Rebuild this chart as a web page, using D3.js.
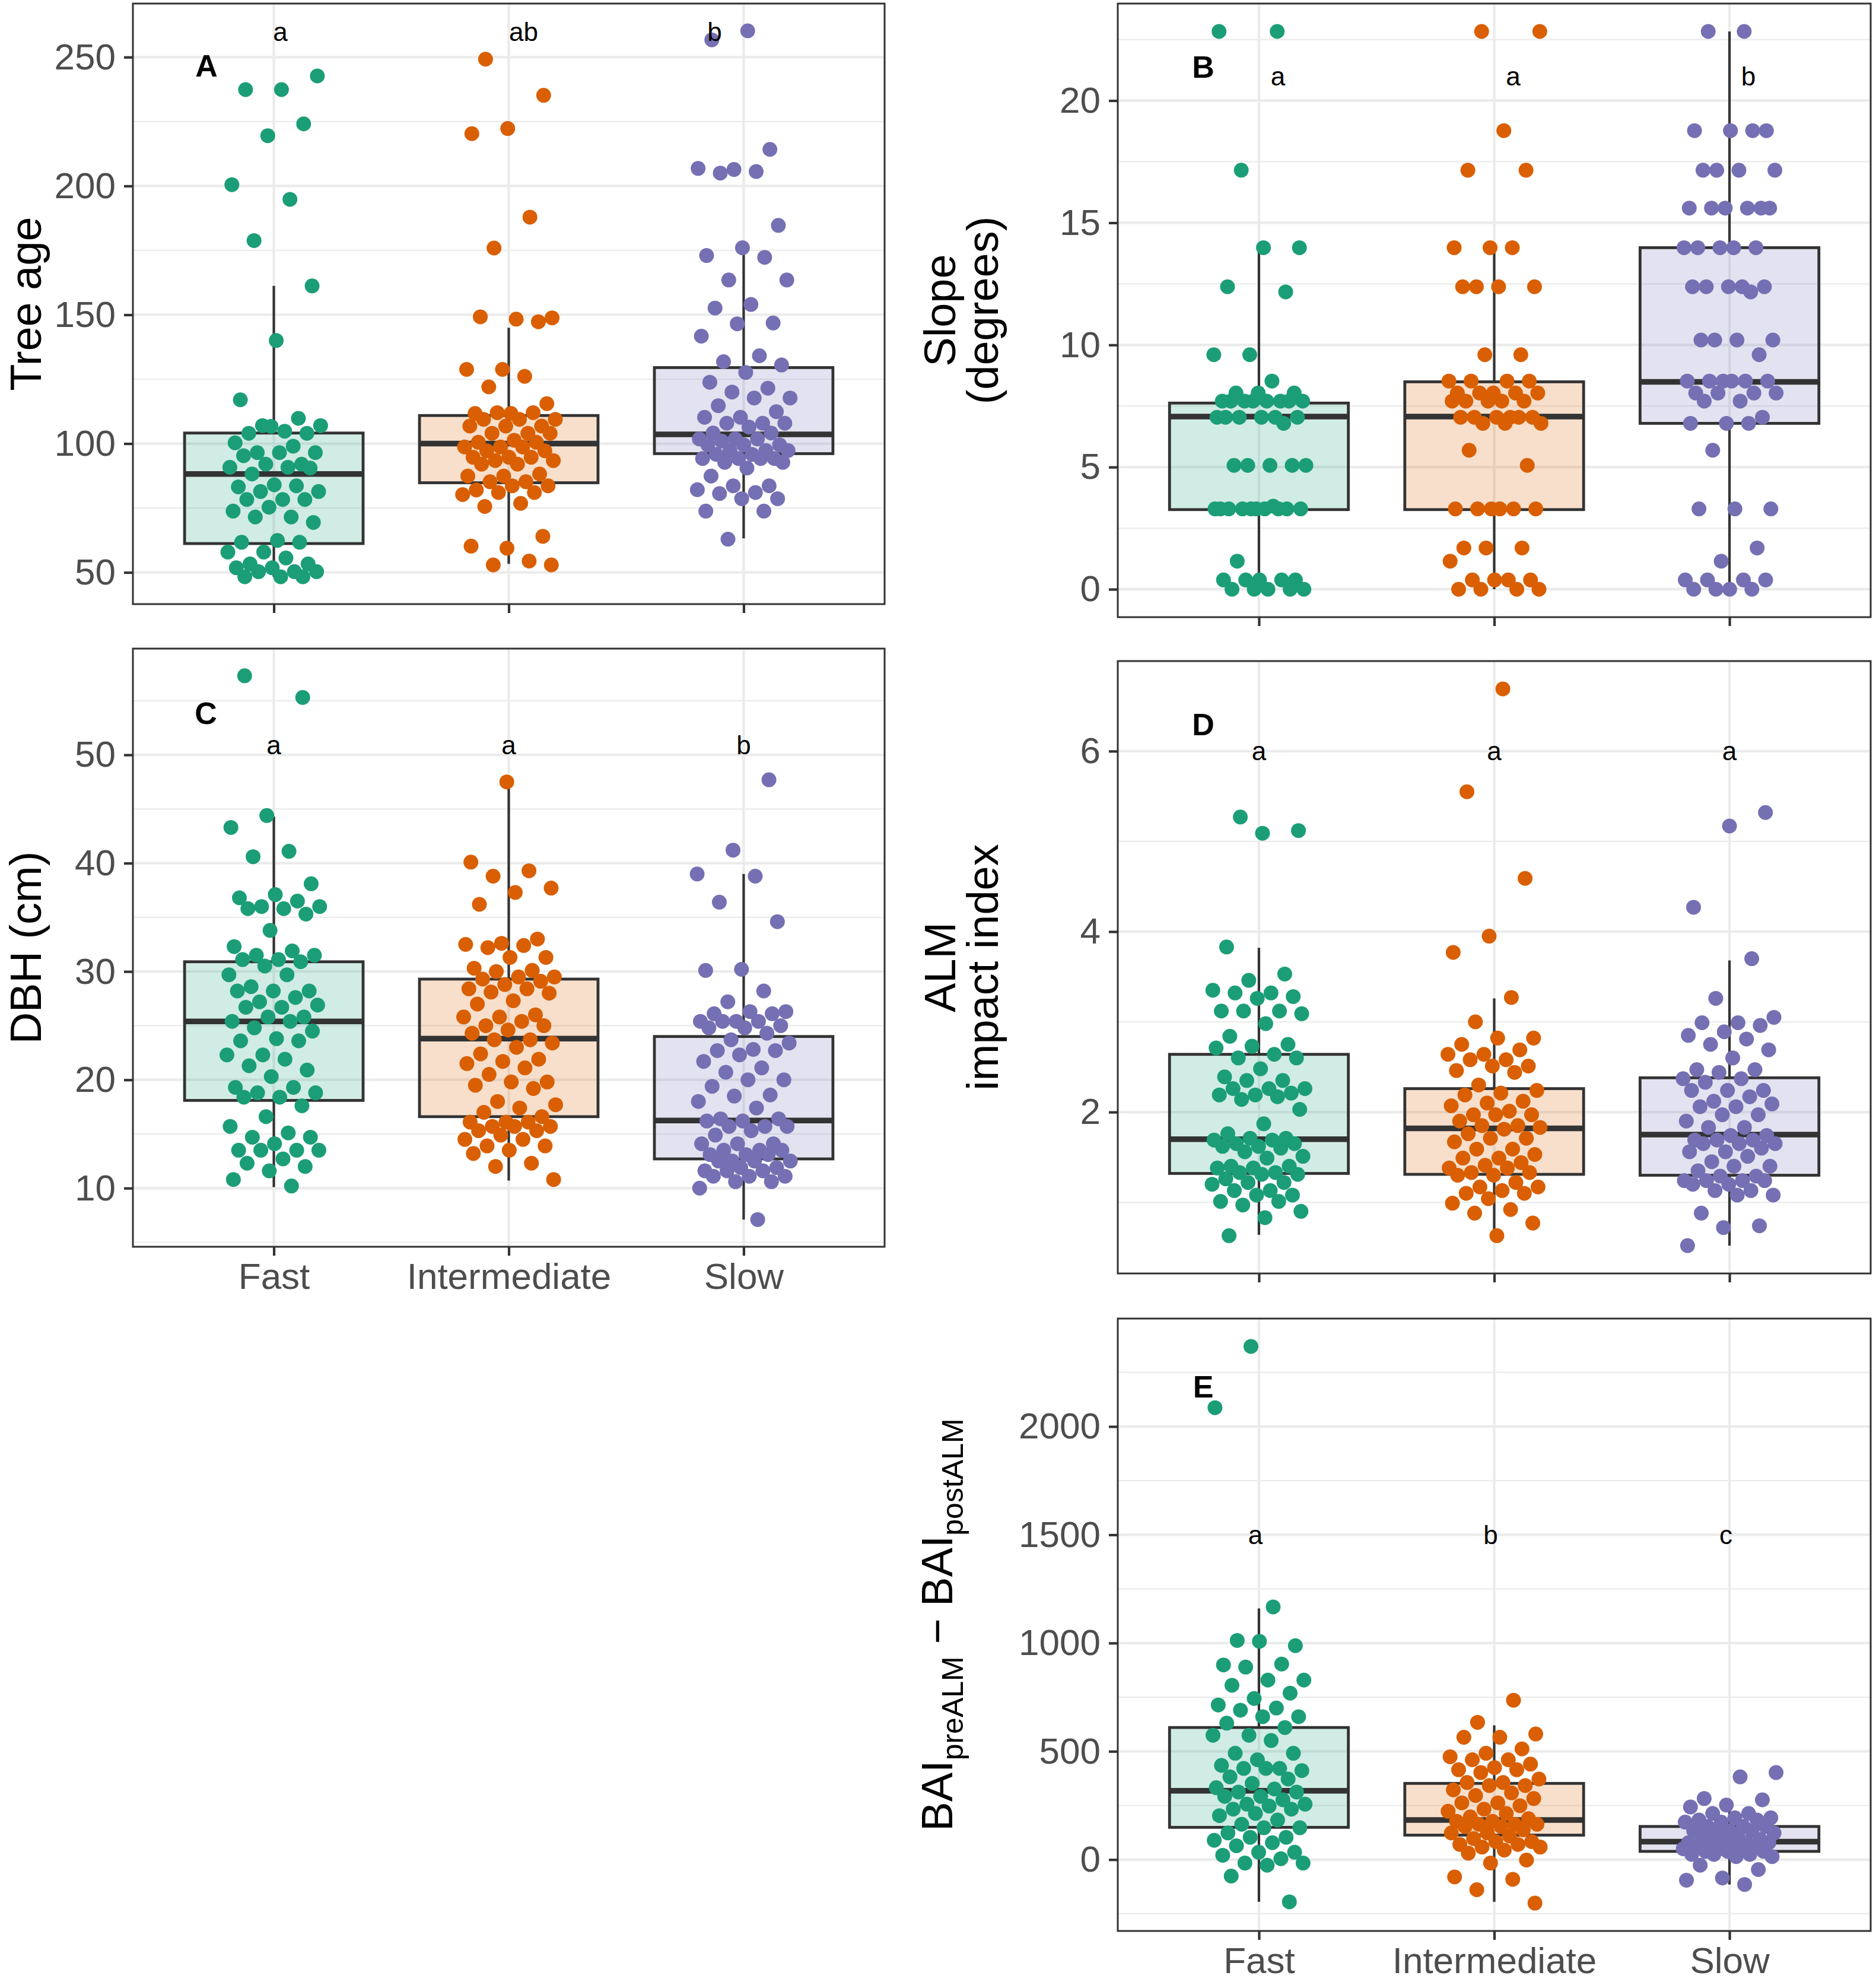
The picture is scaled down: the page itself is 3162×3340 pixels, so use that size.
<!DOCTYPE html>
<html lang="en">
<head>
<meta charset="utf-8">
<title>Growth groups</title>
<script src="https://cdn.jsdelivr.net/npm/d3@7"></script>
<style>
  body { margin: 0; background: #fff; }
  svg { display: block; font-family: "Liberation Sans", Arial, sans-serif; }
</style>
</head>
<body>
<script>
// categories
var groups = ["Fast", "Intermediate", "Slow"];
var colors = ["#1b9e77", "#d95f02", "#7570b3"];

// A - tree age
var ageFast = [242.7, 237.4, 237.4, 224.1, 219.5, 200.5, 194.8, 178.8, 161.2, 140, 117, 109.8, 107, 107, 104.8, 104, 104, 106.7, 100.3, 99, 96.5, 96.5, 96.5, 95.3, 92, 92, 90.8, 90.8, 88.2, 90.5, 84, 83.2, 83.6, 81.4, 81.4, 78.3, 78.3, 78.3, 75.3, 73.8, 71.5, 71.5, 69.4, 62.4, 61.7, 61.7, 57.9, 57.9, 55.6, 53.3, 53.3, 51.8, 51.8, 50.3, 50.3, 50.3, 48.3, 48.3, 48.3];
var ageInter = [249.2, 235.2, 222.3, 220.3, 187.9, 175.9, 148.8, 148.3, 149.2, 147.3, 128.8, 128.8, 126.1, 122, 115.5, 111.7, 111.7, 112, 112, 109.4, 109.4, 109.4, 106.8, 106.8, 106.8, 104, 104, 104, 101.3, 100.5, 100.5, 98.7, 98.7, 98.7, 97.2, 97.2, 94.7, 94.7, 94.7, 93.4, 93.4, 92, 92, 88.2, 87.4, 87.4, 85.2, 85.2, 83.6, 83.6, 82, 81, 81, 80.2, 76.8, 75.6, 64, 59.4, 60.2, 54.4, 52.9, 52.9];
var ageSlow = [260.2, 256.7, 214.2, 206.4, 206.8, 205.6, 205, 184.7, 176, 173, 172.3, 163.5, 163.5, 154, 152.6, 146.8, 146.5, 141.7, 134.1, 131.8, 130.5, 127.6, 123.8, 121.5, 120, 117.7, 117.7, 114.7, 112.4, 110.2, 110.2, 107.9, 107.9, 107.9, 106.4, 104.1, 104.1, 101.8, 101.8, 101.8, 101, 99.5, 99.5, 99.5, 97.3, 97.3, 97.3, 95.8, 95.8, 94.2, 94.2, 94.2, 94.2, 92.7, 92.7, 90.5, 87.4, 83.6, 83.6, 82.1, 81, 80.6, 78.6, 78.6, 73.8, 73.8, 62.9];
// [lower whisker, q1, median, q3, upper whisker]
var ageBox = [[48.3, 61.2, 88.2, 104.1, 161.2], [53.3, 84.8, 100, 110.9, 145], [63.2, 96.1, 103.6, 129.5, 175.9]];
var ageTicks = [50, 100, 150, 200, 250];
var ageLetters = ["a", "ab", "b"];
var ageLetterY = 259.8;

// B - slope
var slopeFast = [22.83, 22.83, 17.15, 13.98, 13.98, 12.38, 12.17, 9.6, 9.6, 8.52, 8.03, 8.03, 8.03, 7.7, 7.7, 7.7, 7.7, 7.7, 7.7, 7.7, 7.7, 7.04, 7.04, 7.04, 7.04, 7.04, 7.04, 6.79, 5.07, 5.07, 5.07, 5.07, 5.07, 3.29, 3.29, 3.29, 3.29, 3.29, 3.29, 3.29, 3.29, 3.29, 3.29, 3.4, 1.15, 0.38, 0.38, 0.38, 0.38, 0.38, 0, 0, 0, 0, 0];
var slopeInter = [22.83, 22.83, 18.77, 17.15, 17.15, 13.98, 13.98, 13.98, 12.38, 12.38, 12.38, 12.38, 9.6, 9.6, 8.52, 8.52, 8.52, 8.52, 8.03, 8.03, 8.03, 8.03, 8.03, 7.7, 7.7, 7.7, 7.7, 7.7, 7.04, 7.04, 7.04, 7.04, 7.04, 7.04, 6.79, 6.79, 6.79, 5.69, 5.07, 3.29, 3.29, 3.29, 3.29, 3.29, 3.29, 1.69, 1.69, 1.69, 1.15, 0.38, 0.38, 0.38, 0.38, 0, 0, 0, 0];
var slopeSlow = [22.83, 22.83, 18.77, 18.77, 18.77, 18.77, 17.15, 17.15, 17.15, 17.15, 15.6, 15.6, 15.6, 15.6, 15.6, 15.6, 13.98, 13.98, 13.98, 13.98, 13.98, 12.38, 12.38, 12.38, 12.38, 12.38, 12.17, 10.2, 10.2, 10.2, 10.2, 9.6, 8.52, 8.52, 8.52, 8.52, 8.52, 8.52, 8.03, 8.03, 8.03, 8.03, 7.7, 7.7, 7.04, 6.79, 6.79, 6.79, 5.69, 3.29, 3.29, 3.29, 1.69, 1.15, 0.38, 0.38, 0.38, 0.38, 0, 0, 0, 0];
var slopeBox = [[0, 3.26, 7.07, 7.62, 13.98], [0, 3.26, 7.07, 8.49, 13.98], [0, 6.79, 8.49, 13.98, 22.83]];
var slopeTicks = [0, 5, 10, 15, 20];
var slopeLetters = ["a", "a", "b"];
var slopeLetterY = 21;

// C - DBH
var dbhFast = [57.3, 55.3, 44.4, 43.3, 41.1, 40.6, 38.1, 37.1, 36.8, 36.5, 36, 36, 35.8, 35.8, 35.3, 33.8, 32.3, 31.9, 31.5, 31.5, 31.1, 31.1, 30.9, 30.5, 29.7, 29.7, 28.6, 28.2, 28.2, 28.2, 27.6, 27.2, 26.9, 26.7, 26.7, 25.8, 25.8, 25.4, 25.4, 24.8, 24.5, 23.8, 23.6, 23.6, 22.3, 22.3, 21.9, 21.3, 20.9, 20.3, 19.3, 19.3, 18.8, 18.8, 18.4, 18.4, 17.6, 16.6, 15.7, 15.1, 14.7, 14.7, 14.1, 13.5, 13.5, 13.5, 13.5, 12.7, 12.3, 12, 11.6, 10.8, 10.2];
var dbhInter = [47.5, 40.1, 39.3, 38.8, 37.7, 37.3, 36.2, 33, 32.6, 32.5, 32.4, 32.2, 31.3, 31.3, 30.3, 30.1, 30, 29.5, 29.5, 29.3, 29.1, 28.8, 28.4, 28.4, 28.1, 28, 27.3, 27, 26, 25.8, 25.8, 25.4, 25, 25, 24.6, 24.3, 23.7, 23.7, 23.4, 23, 22.4, 21.9, 21.7, 21.5, 21.1, 20.5, 19.8, 19.8, 19.5, 19.2, 18, 17.7, 17.4, 17, 16.6, 16.1, 16.1, 16.1, 15.7, 15.7, 15.7, 15.3, 15.3, 14.9, 14.5, 14.5, 13.9, 13.9, 13.5, 13.2, 12.3, 12, 10.8];
var dbhSlow = [47.7, 41.2, 39, 38.8, 36.4, 34.6, 30.2, 30.1, 28.2, 27.2, 26.3, 26.3, 26.1, 26.1, 25.4, 25.4, 25.4, 25.4, 25, 24.8, 24.8, 24.3, 23.7, 23.4, 22.8, 22.7, 22.7, 22.3, 21.7, 21.1, 20.7, 20, 20, 19.4, 18.6, 18.5, 18, 17.4, 16.4, 16.4, 16.2, 16.2, 15.7, 15.7, 15.7, 15.3, 14.9, 14.1, 14.1, 14.1, 13.5, 13.5, 13.5, 13.1, 13.1, 13.1, 12.5, 12.5, 12.5, 12.5, 11.9, 11.9, 11.6, 11.6, 11.6, 11.1, 11.1, 11.1, 10.6, 10.6, 10, 7.1];
var dbhBox = [[10.1, 18.1, 25.4, 30.9, 44.3], [10.7, 16.6, 23.8, 29.3, 47.5], [7.1, 12.7, 16.25, 24, 39]];
var dbhTicks = [10, 20, 30, 40, 50];
var dbhLetters = ["a", "a", "b"];
var dbhLetterY = 50.9;

// D - ALM impact index
var almFast = [5.27, 5.12, 5.09, 3.83, 3.53, 3.46, 3.35, 3.32, 3.32, 3.28, 3.26, 3.12, 3.12, 3.12, 3.09, 2.98, 2.84, 2.75, 2.73, 2.71, 2.64, 2.6, 2.6, 2.48, 2.39, 2.35, 2.35, 2.26, 2.26, 2.26, 2.21, 2.19, 2.19, 2.17, 2.14, 2.03, 1.87, 1.76, 1.71, 1.71, 1.69, 1.69, 1.65, 1.65, 1.62, 1.62, 1.6, 1.56, 1.51, 1.49, 1.4, 1.4, 1.38, 1.38, 1.33, 1.33, 1.31, 1.31, 1.26, 1.22, 1.22, 1.2, 1.13, 1.13, 1.08, 1.08, 1.01, 1.01, 0.97, 0.9, 0.83, 0.63];
var almInter = [6.69, 5.55, 4.59, 3.95, 3.77, 3.27, 3.0, 2.82, 2.82, 2.75, 2.69, 2.64, 2.64, 2.58, 2.58, 2.51, 2.51, 2.46, 2.44, 2.3, 2.24, 2.21, 2.19, 2.12, 2.1, 2.07, 2.01, 1.97, 1.97, 1.97, 1.9, 1.85, 1.85, 1.83, 1.81, 1.76, 1.71, 1.71, 1.67, 1.59, 1.59, 1.53, 1.49, 1.49, 1.44, 1.41, 1.38, 1.38, 1.33, 1.33, 1.3, 1.3, 1.22, 1.17, 1.17, 1.13, 1.1, 1.1, 1.04, 0.99, 0.92, 0.88, 0.77, 0.63];
var almSlow = [5.32, 5.17, 4.27, 3.7, 3.26, 3.05, 2.99, 2.99, 2.96, 2.89, 2.85, 2.81, 2.75, 2.69, 2.6, 2.47, 2.47, 2.44, 2.37, 2.37, 2.33, 2.24, 2.24, 2.24, 2.17, 2.12, 2.09, 2.06, 2.06, 1.97, 1.97, 1.9, 1.83, 1.83, 1.74, 1.74, 1.69, 1.69, 1.69, 1.65, 1.65, 1.65, 1.6, 1.56, 1.56, 1.51, 1.45, 1.4, 1.4, 1.35, 1.29, 1.29, 1.24, 1.24, 1.24, 1.24, 1.2, 1.2, 1.13, 1.13, 1.08, 1.08, 0.88, 0.74, 0.72, 0.52];
var almBox = [[0.64, 1.32, 1.7, 2.64, 3.82], [0.63, 1.31, 1.82, 2.26, 3.26], [0.52, 1.3, 1.75, 2.38, 3.68]];
var almTicks = [2, 4, 6];
var almLetters = ["a", "a", "a"];
var almLetterY = 6.0;

// E - BAI difference
var baiFast = [2370, 2087, 1167, 1012, 988, 1008, 899, 903, 889, 829, 829, 805, 769, 744, 714, 700, 690, 660, 660, 630, 610, 574, 574, 550, 491, 491, 461, 435, 421, 421, 411, 421, 382, 372, 352, 332, 326, 312, 312, 292, 292, 276, 256, 256, 247, 233, 233, 213, 203, 183, 163, 147, 147, 123, 103, 103, 89, 78, 64, 34, 34, 20, 4, -16, -16, -26, -76, -195];
var baiInter = [736, 634, 580, 565, 565, 511, 491, 475, 461, 461, 441, 425, 415, 415, 402, 372, 356, 356, 342, 342, 322, 308, 296, 282, 262, 262, 249, 233, 223, 213, 197, 189, 177, 177, 163, 163, 163, 153, 153, 137, 123, 123, 109, 97, 83, 83, 70, 70, 58, 58, 44, 30, -2, -16, -80, -91, -139, -201];
var baiSlow = [402, 382, 282, 276, 252, 243, 213, 213, 193, 193, 183, 183, 173, 173, 153, 153, 153, 133, 133, 133, 123, 123, 103, 103, 93, 93, 78, 78, 78, 78, 64, 64, 64, 50, 50, 50, 38, 38, 38, 24, 24, 24, 14, 14, -26, -46, -85, -95, -115];
var baiBox = [[-195, 149, 318, 610, 1160], [-195, 113, 183, 352, 620], [-115, 38, 83, 153, 278]];
var baiTicks = [0, 500, 1000, 1500, 2000];
var baiLetters = ["a", "b", "c"];
var baiLetterY = 1500;

var W = 3162, H = 3340;
var svg = d3.select("body").append("svg")
    .attr("width", W)
    .attr("height", H);

// layout of the five panels (pixels)
var panels = [
  {tag: "A", x0: 224, x1: 1491, y0: 6, y1: 1018, series: [ageFast, ageInter, ageSlow], box: ageBox,
   ticks: ageTicks, letters: ageLetters, letterY: ageLetterY, letterDx: [11, 25, -49],
   tagPos: [124, 105], title: ["Tree age"], titleX: [69], xLabels: false},
  {tag: "B", x0: 1884, x1: 3153, y0: 6, y1: 1040, series: [slopeFast, slopeInter, slopeSlow], box: slopeBox,
   ticks: slopeTicks, letters: slopeLetters, letterY: slopeLetterY, letterDx: [32, 32, 32],
   tagPos: [144, 107], title: ["Slope", "(degrees)"], titleX: [1610, 1682], xLabels: false},
  {tag: "C", x0: 224, x1: 1491, y0: 1093, y1: 2101, series: [dbhFast, dbhInter, dbhSlow], box: dbhBox,
   ticks: dbhTicks, letters: dbhLetters, letterY: dbhLetterY, letterDx: [0, 0, 0],
   tagPos: [123, 109], title: ["DBH (cm)"], titleX: [69], xLabels: true},
  {tag: "D", x0: 1884, x1: 3153, y0: 1114, y1: 2146, series: [almFast, almInter, almSlow], box: almBox,
   ticks: almTicks, letters: almLetters, letterY: almLetterY, letterDx: [0, 0, 0],
   tagPos: [144, 107], title: ["ALM", "impact index"], titleX: [1610, 1682], xLabels: false},
  {tag: "E", x0: 1884, x1: 3153, y0: 2222, y1: 3254, series: [baiFast, baiInter, baiSlow], box: baiBox,
   ticks: baiTicks, letters: baiLetters, letterY: baiLetterY, letterDx: [-6, -6, -6],
   tagPos: [144, 115], title: null, titleX: [1605], xLabels: true}
];

var gridCol = "#ebebeb", inkCol = "#333333";

panels.forEach(function(p) {
  var g = svg.append("g");

  var x = d3.scalePoint().domain(groups).range([p.x0, p.x1]).padding(0.6);
  var all = d3.merge(p.series);
  var ext = d3.extent(all);
  var pad = (ext[1] - ext[0]) * 0.05;
  var y = d3.scaleLinear().domain([ext[0] - pad, ext[1] + pad]).range([p.y1, p.y0]);
  var step = x.step();

  // minor grid: half way between major breaks, also one beyond each end
  var t = p.ticks, d = t[1] - t[0];
  var minor = [t[0] - d / 2].concat(t.map(function(v) { return v + d / 2; }))
      .filter(function(v) { return v > y.domain()[0] && v < y.domain()[1]; });

  g.selectAll(".minor").data(minor).enter().append("line")
      .attr("x1", p.x0).attr("x2", p.x1)
      .attr("y1", function(v) { return y(v); }).attr("y2", function(v) { return y(v); })
      .attr("stroke", gridCol).attr("stroke-width", 2.2);
  g.selectAll(".major").data(t).enter().append("line")
      .attr("x1", p.x0).attr("x2", p.x1)
      .attr("y1", function(v) { return y(v); }).attr("y2", function(v) { return y(v); })
      .attr("stroke", gridCol).attr("stroke-width", 4.3);
  g.selectAll(".vmajor").data(groups).enter().append("line")
      .attr("x1", function(c) { return x(c); }).attr("x2", function(c) { return x(c); })
      .attr("y1", p.y0).attr("y2", p.y1)
      .attr("stroke", gridCol).attr("stroke-width", 4.3);

  // boxes
  var bw = step * 0.76;
  p.box.forEach(function(b, i) {
    var cx = x(groups[i]);
    g.append("line").attr("x1", cx).attr("x2", cx).attr("y1", y(b[0])).attr("y2", y(b[1]))
        .attr("stroke", inkCol).attr("stroke-width", 4.2);
    g.append("line").attr("x1", cx).attr("x2", cx).attr("y1", y(b[3])).attr("y2", y(b[4]))
        .attr("stroke", inkCol).attr("stroke-width", 4.2);
    g.append("rect").attr("x", cx - bw / 2).attr("width", bw)
        .attr("y", y(b[3])).attr("height", y(b[1]) - y(b[3]))
        .attr("fill", colors[i]).attr("fill-opacity", 0.2)
        .attr("stroke", inkCol).attr("stroke-width", 4.8);
    g.append("line").attr("x1", cx - bw / 2).attr("x2", cx + bw / 2)
        .attr("y1", y(b[2])).attr("y2", y(b[2]))
        .attr("stroke", inkCol).attr("stroke-width", 9.5);
  });

  // jittered points (fixed spread, ±0.2 of a category step)
  p.series.forEach(function(vals, i) {
    var cx = x(groups[i]);
    g.selectAll(".pt" + i).data(vals).enter().append("circle")
        .attr("cx", function(v, j) {
          var f = ((j + 1) * 0.6180339887 + i * 0.29 + p.tag.charCodeAt(0) * 0.113) % 1;
          return cx + (f - 0.5) * 0.4 * step;
        })
        .attr("cy", function(v) { return y(v); })
        .attr("r", 12.5)
        .attr("fill", colors[i]);
  });

  // significance letters
  g.selectAll(".sig").data(p.letters).enter().append("text")
      .attr("x", function(s, i) { return x(groups[i]) + p.letterDx[i]; })
      .attr("y", y(p.letterY))
      .attr("dy", "0.35em")
      .attr("text-anchor", "middle")
      .attr("font-size", 44)
      .attr("fill", "#000")
      .text(function(s) { return s; });

  // panel tag
  g.append("text")
      .attr("x", p.x0 + p.tagPos[0]).attr("y", p.y0 + p.tagPos[1])
      .attr("dy", "0.35em").attr("text-anchor", "middle")
      .attr("font-size", 52).attr("font-weight", "bold")
      .text(p.tag);

  // border
  g.append("rect").attr("x", p.x0).attr("y", p.y0)
      .attr("width", p.x1 - p.x0).attr("height", p.y1 - p.y0)
      .attr("fill", "none").attr("stroke", inkCol).attr("stroke-width", 3);

  // axes
  var ay = g.append("g").attr("transform", "translate(" + p.x0 + ",0)")
      .call(d3.axisLeft(y).tickValues(t).tickFormat(d3.format("d")).tickSize(15).tickPadding(14));
  var ax = g.append("g").attr("transform", "translate(0," + p.y1 + ")")
      .call(d3.axisBottom(x).tickSize(15).tickPadding(12));
  if (!p.xLabels) ax.selectAll("text").remove();
  [ay, ax].forEach(function(a) {
    a.select(".domain").remove();
    a.selectAll("line").attr("stroke", inkCol).attr("stroke-width", 4.2);
    a.selectAll("text").attr("font-size", 62).attr("fill", "#4d4d4d")
        .attr("font-family", "'Liberation Sans', Arial, sans-serif");
  });

  // y title
  var cy = (p.y0 + p.y1) / 2;
  if (p.title) {
    p.title.forEach(function(line, k) {
      g.append("text")
          .attr("transform", "translate(" + p.titleX[k] + "," + cy + ") rotate(-90)")
          .attr("text-anchor", "middle")
          .attr("font-size", 74)
          .text(line);
    });
  } else {
    var tt = g.append("text")
        .attr("transform", "translate(" + p.titleX[0] + "," + cy + ") rotate(-90)")
        .attr("text-anchor", "middle")
        .attr("font-size", 74);
    tt.append("tspan").text("BAI");
    tt.append("tspan").attr("font-size", 50).attr("dy", 18).text("preALM");
    tt.append("tspan").attr("dy", -18).text(" \u2212 BAI");
    tt.append("tspan").attr("font-size", 50).attr("dy", 18).text("postALM");
  }
});
</script>
</body>
</html>
